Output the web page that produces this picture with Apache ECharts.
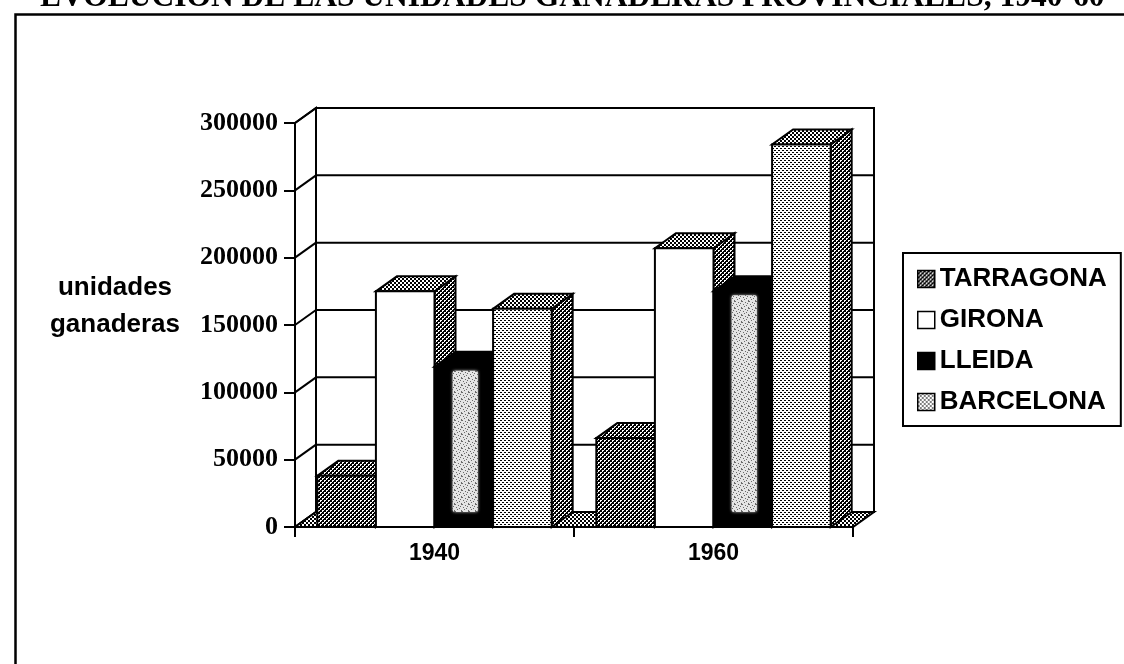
<!DOCTYPE html>
<html>
<head>
<meta charset="utf-8">
<script src="https://cdn.jsdelivr.net/npm/echarts@6/dist/echarts.min.js"></script>
<style>
  html, body { margin: 0; padding: 0; background: #fff; }
  #chart { width: 1124px; height: 664px; }
</style>
</head>
<body>
<div id="chart"></div>
<script>
// Livestock units per province, 1940 and 1960
const categories = ['1940', '1960'];
const seriesNames = ['TARRAGONA', 'GIRONA', 'LLEIDA', 'BARCELONA'];
const tarragona = [38000, 66000];
const girona = [175000, 207000];
const lleida = [119000, 175000];
const barcelona = [162000, 284000];
const yTicks = [0, 50000, 100000, 150000, 200000, 250000, 300000];
const titleText = 'EVOLUCIÓN DE LAS UNIDADES GANADERAS PROVINCIALES, 1940-60';
const yAxisTitle = 'unidades\nganaderas';

// oblique depth of the 3D box and bars (pixels)
const DX = 21, DY = -15;
const BAR_FRAC = 0.21;

// halftone fills built on small canvases
function makePattern(size, bg, fg, cells) {
  const c = document.createElement('canvas');
  c.width = size; c.height = size;
  const ctx = c.getContext('2d');
  ctx.fillStyle = bg; ctx.fillRect(0, 0, size, size);
  ctx.fillStyle = fg;
  cells.forEach(([x, y, w, h]) => ctx.fillRect(x, y, w, h));
  return { image: c, repeat: 'repeat' };
}
const patMid = makePattern(4, '#fff', '#000', [[0, 0, 2, 2], [2, 2, 2, 2]]);
const patDark = makePattern(4, '#000', '#fff', [[0, 0, 2, 1], [2, 2, 2, 1], [0, 1, 1, 1], [2, 3, 1, 1]]);
const patLight = makePattern(4, '#fff', '#000', [[0, 0, 2, 1], [2, 2, 2, 1]]);
const patSpeckle = makePattern(7, '#e4e4e4', '#6a6a6a',
  [[0, 0, 1, 1], [3, 1, 1, 1], [1, 3, 1, 1], [4, 4, 1, 1], [5, 2, 1, 1], [6, 6, 1, 1], [2, 5, 1, 1], [6, 0, 1, 1]]);

const faceStyles = [
  { front: patDark, top: patDark, side: patDark },
  { front: '#ffffff', top: patMid, side: patDark },
  { front: '#000000', top: '#000000', side: '#000000', strip: true },
  { front: patLight, top: patMid, side: patDark }
];

const stroke = { stroke: '#000', lineWidth: 2, lineJoin: 'miter' };

function barRenderer(idx) {
  const fs = faceStyles[idx];
  return function (params, api) {
    const cat = api.value(0), val = api.value(1);
    const base = api.coord([cat, 0]);
    const top = api.coord([cat, val]);
    const bandW = api.size([1, 0])[0];
    const barW = bandW * BAR_FRAC;
    const x0 = base[0] - 2 * barW + idx * barW;
    const x1 = x0 + barW;
    const yB = base[1], yT = top[1];
    const children = [
      { type: 'polygon', shape: { points: [[x1, yT], [x1 + DX, yT + DY], [x1 + DX, yB + DY], [x1, yB]] },
        style: Object.assign({ fill: fs.side }, stroke) },
      { type: 'polygon', shape: { points: [[x0, yT], [x1, yT], [x1 + DX, yT + DY], [x0 + DX, yT + DY]] },
        style: Object.assign({ fill: fs.top }, stroke) },
      { type: 'rect', shape: { x: x0, y: yT, width: barW, height: yB - yT },
        style: Object.assign({ fill: fs.front }, stroke) }
    ];
    if (fs.strip) {
      // pale speckled band down the middle of the dark front face
      children.push({ type: 'rect',
        shape: { x: x0 + barW * 0.31, y: yT + 4, width: barW * 0.43, height: yB - yT - 19, r: 2 },
        style: { fill: patSpeckle, shadowBlur: 3, shadowColor: 'rgba(200,200,200,0.9)' } });
    }
    return { type: 'group', children: children };
  };
}

function frameRenderer(params, api) {
  const cs = params.coordSys;
  const xL = cs.x, xR = cs.x + cs.width;
  const y0 = api.coord([0, 0])[1];
  const yMax = api.coord([0, yTicks[yTicks.length - 1]])[1];
  const children = [];
  // back wall
  children.push({ type: 'rect', shape: { x: xL + DX, y: yMax + DY, width: xR - xL, height: y0 - yMax },
    style: Object.assign({ fill: '#fff' }, stroke) });
  // left wall
  children.push({ type: 'polygon', shape: { points: [[xL, yMax], [xL + DX, yMax + DY], [xL + DX, y0 + DY], [xL, y0]] },
    style: Object.assign({ fill: '#fff' }, stroke) });
  yTicks.forEach(v => {
    const y = api.coord([0, v])[1];
    children.push({ type: 'line', shape: { x1: xL + DX, y1: y + DY, x2: xR + DX, y2: y + DY }, style: stroke });
    children.push({ type: 'line', shape: { x1: xL, y1: y, x2: xL + DX, y2: y + DY }, style: stroke });
  });
  // floor
  children.push({ type: 'polygon', shape: { points: [[xL, y0], [xR, y0], [xR + DX, y0 + DY], [xL + DX, y0 + DY]] },
    style: Object.assign({ fill: patMid }, stroke) });
  return { type: 'group', children: children };
}

const values = [tarragona, girona, lleida, barcelona];
const legendFills = [patDark, '#ffffff', '#000000', patLight];

const chart = echarts.init(document.getElementById('chart'), null, { renderer: 'canvas' });
chart.setOption({
  animation: false,
  backgroundColor: '#fff',
  grid: { left: 295, right: 271, top: 123, bottom: 137, containLabel: false },
  xAxis: {
    type: 'category', data: categories, boundaryGap: true, z: 5,
    axisLine: { lineStyle: { color: '#000', width: 2 } },
    axisTick: { show: true, length: 10, interval: 0, lineStyle: { color: '#000', width: 2 } },
    axisLabel: { color: '#000', fontFamily: '"Liberation Sans Narrow", "Arial Narrow", "Liberation Sans", sans-serif',
      fontWeight: 'bold', fontSize: 23, margin: 15 },
    splitLine: { show: false }
  },
  yAxis: {
    type: 'value', min: 0, max: 300000, interval: 50000, z: 5,
    axisLine: { show: true, lineStyle: { color: '#000', width: 2 } },
    axisTick: { show: true, length: 11, lineStyle: { color: '#000', width: 2 } },
    axisLabel: { color: '#000', fontFamily: '"Liberation Serif", "Times New Roman", serif',
      fontWeight: 'bold', fontSize: 26, margin: 17, formatter: v => String(v) },
    splitLine: { show: false }
  },
  legend: {
    orient: 'vertical', left: 903, top: 253,
    padding: [13, 14, 11, 14], itemGap: 15, itemWidth: 17, itemHeight: 17,
    borderColor: '#000', borderWidth: 2, backgroundColor: '#fff',
    selectedMode: false, icon: 'rect',
    textStyle: { color: '#000', fontFamily: '"Liberation Sans", Arial, sans-serif', fontWeight: 'bold',
      fontSize: 26, lineHeight: 26 },
    data: seriesNames.map((n, i) => ({ name: n,
      itemStyle: { color: legendFills[i], borderColor: '#000', borderWidth: 1.5 } }))
  },
  graphic: [
    { type: 'rect', left: 13, top: 12, shape: { width: 1200, height: 700 },
      style: { fill: 'none', stroke: '#000', lineWidth: 2.5 }, silent: true, z: -10 },
    { type: 'text', x: 40, y: -2, silent: true,
      style: { text: titleText, fill: '#000', font: 'bold 31.5px "Liberation Serif", "Times New Roman", serif',
        textAlign: 'left', textVerticalAlign: 'middle', verticalAlign: 'middle' } },
    { type: 'text', x: 115, y: 306, silent: true,
      style: { text: yAxisTitle, fill: '#000', font: 'bold 26px "Liberation Sans", Arial, sans-serif',
        lineHeight: 37, textAlign: 'center', align: 'center', verticalAlign: 'middle', textVerticalAlign: 'middle' } }
  ],
  series: [
    { type: 'custom', name: 'frame', silent: true, z: 1, renderItem: frameRenderer, data: [[0, 0]] }
  ].concat(seriesNames.map((n, i) => ({
    type: 'custom', name: n, z: 2 + i, silent: true,
    itemStyle: { color: legendFills[i] },
    renderItem: barRenderer(i),
    encode: { x: 0, y: 1 },
    data: categories.map((c, k) => [k, values[i][k]])
  })))
});
</script>
</body>
</html>
